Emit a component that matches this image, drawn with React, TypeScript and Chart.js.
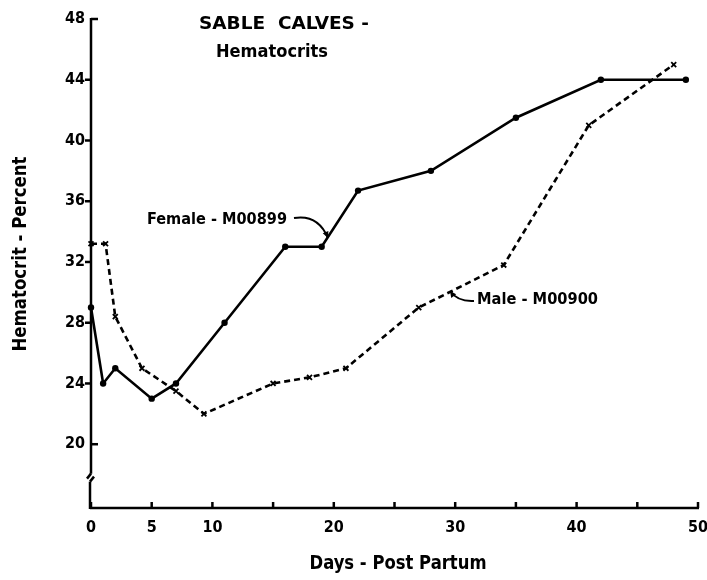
import React, { useEffect, useRef } from 'react';
import { Chart, registerables } from 'chart.js';

Chart.register(...registerables);

// ---- data ----
const femaleDays = [0, 1, 2, 5, 7, 11, 16, 19, 22, 28, 35, 42, 49];
const femaleHematocrit = [29, 24, 25, 23, 24, 28, 33, 33, 36.7, 38, 41.5, 44, 44];
const maleDays = [0, 1.2, 2, 4.2, 7, 9.3, 15, 18, 21, 27, 34, 41, 48];
const maleHematocrit = [33.2, 33.2, 28.4, 25, 23.5, 22, 24, 24.4, 25, 29, 31.8, 41, 45];

const xTickValues = [0, 5, 10, 15, 20, 25, 30, 35, 40, 45, 50];
const xTickLabels = ['0', '5', '10', '', '20', '', '30', '', '40', '', '50'];
const yTickValues = [20, 24, 28, 32, 36, 40, 44, 48];
const yTickLabels = ['20', '24', '28', '32', '36', '40', '44', '48'];

const titleLine1 = 'SABLE  CALVES -';
const titleLine2 = 'Hematocrits';
const xAxisTitle = 'Days - Post Partum';
const yAxisTitle = 'Hematocrit - Percent';
const femaleLabel = 'Female - M00899';
const maleLabel = 'Male - M00900';

const FONT = '"DejaVu Sans Condensed", "DejaVu Sans", sans-serif';

function fitText(ctx: CanvasRenderingContext2D, text: string, cx: number, cy: number, width: number, size: number, rot = 0, align: 'center' | 'left' = 'center') {
  ctx.save();
  ctx.font = `bold ${size}px ${FONT}`;
  ctx.textBaseline = 'middle';
  ctx.textAlign = align;
  const w = ctx.measureText(text).width;
  ctx.translate(cx, cy);
  ctx.rotate(rot);
  ctx.scale(width / w, 1);
  ctx.fillText(text, 0, 0);
  ctx.restore();
}

function arrow(ctx: CanvasRenderingContext2D, sx: number, sy: number, cx: number, cy: number, ex: number, ey: number) {
  ctx.beginPath();
  ctx.moveTo(sx, sy);
  ctx.quadraticCurveTo(cx, cy, ex, ey);
  ctx.stroke();
  const ang = Math.atan2(ey - cy, ex - cx);
  const L = 7;
  ctx.beginPath();
  ctx.moveTo(ex, ey);
  ctx.lineTo(ex - L * Math.cos(ang - 0.45), ey - L * Math.sin(ang - 0.45));
  ctx.lineTo(ex - L * Math.cos(ang + 0.45), ey - L * Math.sin(ang + 0.45));
  ctx.closePath();
  ctx.fill();
}

const decorPlugin = {
  id: 'decor',
  afterDraw(chart: any) {
    const { ctx, scales } = chart;
    const x = scales.x;
    const y = scales.y;
    ctx.save();
    ctx.strokeStyle = '#000';
    ctx.fillStyle = '#000';
    ctx.lineWidth = 2.5;
    const line = (a: number, b: number, c: number, d: number) => {
      ctx.beginPath();
      ctx.moveTo(a, b);
      ctx.lineTo(c, d);
      ctx.stroke();
    };
    const x0 = x.getPixelForValue(0);
    const x50 = x.getPixelForValue(50);
    const yb = y.bottom;
    const yTop = y.getPixelForValue(48);
    // x axis
    line(x0 - 1, yb, x50 + 1, yb);
    xTickValues.forEach((v) => {
      const px = x.getPixelForValue(v);
      line(px, yb, px, yb - 6);
    });
    // y axis with break
    const brk = y.getPixelForValue(17.8);
    line(x0, yTop - 1, x0, brk - 4);
    line(x0, brk - 4, x0 - 4, brk + 1);
    line(x0 + 3, brk - 1, x0 - 1, brk + 4);
    line(x0 - 1, brk + 4, x0 - 1, yb + 1);
    yTickValues.forEach((v) => {
      const py = y.getPixelForValue(v);
      if (v === 48 || v === 20) line(x0, py, x0 + 7, py);
      else line(x0 - 6, py, x0 + 1, py);
    });

    // titles & labels
    ctx.fillStyle = '#000';
    fitText(ctx, titleLine1, 284, 25, 170, 17);
    fitText(ctx, titleLine2, 272, 53, 112, 17);
    fitText(ctx, xAxisTitle, 398, 564, 177, 20);
    fitText(ctx, yAxisTitle, 21, 254, 195, 20, -Math.PI / 2);
    fitText(ctx, femaleLabel, 147, 220, 140, 15, 0, 'left');
    fitText(ctx, maleLabel, 477, 300, 121, 15, 0, 'left');

    ctx.lineWidth = 2;
    arrow(ctx, 294, 218, 318, 214, 328, 238);
    arrow(ctx, 474, 301, 458, 302, 450, 291);
    ctx.restore();
  },
};

export default function App() {
  const ref = useRef<HTMLCanvasElement | null>(null);
  useEffect(() => {
    document.body.style.margin = '0';
    if (!ref.current) return;
    const chart = new Chart(ref.current, {
      type: 'scatter',
      data: {
        datasets: [
          {
            label: 'Female - M00899',
            data: femaleDays.map((d, i) => ({ x: d, y: femaleHematocrit[i] })),
            showLine: true,
            borderColor: '#000',
            backgroundColor: '#000',
            borderWidth: 2.6,
            pointStyle: 'circle',
            pointRadius: 3.2,
            pointBorderWidth: 0,
            clip: false,
          },
          {
            label: 'Male - M00900',
            data: maleDays.map((d, i) => ({ x: d, y: maleHematocrit[i] })),
            showLine: true,
            borderColor: '#000',
            backgroundColor: '#000',
            borderWidth: 2.6,
            borderDash: [6, 4],
            pointStyle: 'crossRot',
            pointRadius: 3.5,
            pointBorderWidth: 1.8,
            clip: false,
          } as any,
        ],
      },
      options: {
        responsive: false,
        animation: false,
        layout: { padding: { top: 19, right: 9, left: 0, bottom: 0 } },
        plugins: { legend: { display: false }, tooltip: { enabled: false }, title: { display: false } },
        scales: {
          x: {
            type: 'linear',
            min: 0,
            max: 50,
            grid: { display: false, drawTicks: false },
            border: { display: false },
            afterBuildTicks: (s: any) => {
              s.ticks = xTickValues.map((v) => ({ value: v }));
            },
            afterFit: (s: any) => {
              s.height = 72;
              s.paddingLeft = 0;
              s.paddingRight = 0;
            },
            ticks: {
              autoSkip: false,
              maxRotation: 0,
              padding: 10,
              color: '#000',
              font: { family: FONT, size: 16, weight: 'bold' },
              callback: (v: any) => {
                const i = xTickValues.indexOf(Number(v));
                return i >= 0 ? xTickLabels[i] : '';
              },
            },
          },
          y: {
            type: 'linear',
            min: 15.8,
            max: 48,
            grid: { display: false, drawTicks: false },
            border: { display: false },
            afterBuildTicks: (s: any) => {
              s.ticks = yTickValues.map((v) => ({ value: v }));
            },
            afterFit: (s: any) => {
              s.width = 91;
              s.paddingTop = 0;
              s.paddingBottom = 0;
            },
            ticks: {
              autoSkip: false,
              padding: 6,
              color: '#000',
              font: { family: FONT, size: 16, weight: 'bold' },
              callback: (v: any) => {
                const i = yTickValues.indexOf(Number(v));
                return i >= 0 ? yTickLabels[i] : '';
              },
            },
          },
        },
      },
      plugins: [decorPlugin],
    } as any);
    return () => chart.destroy();
  }, []);
  return <canvas ref={ref} width={707} height={580} style={{ display: 'block' }} />;
}
